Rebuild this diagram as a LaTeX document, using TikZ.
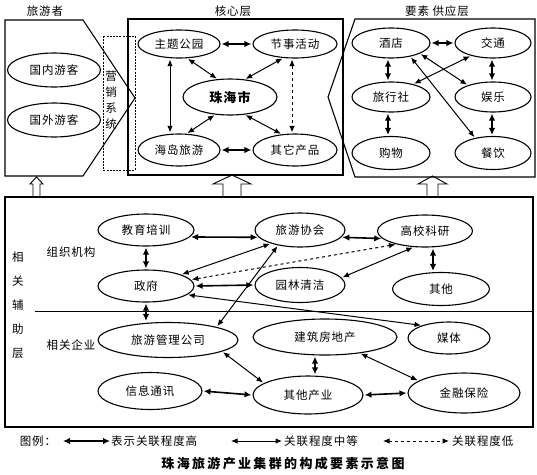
\documentclass[tikz,border=0pt]{standalone}
\usepackage{fontspec}
\setmainfont{Noto Sans CJK SC}[LetterSpace=8]
\usetikzlibrary{arrows.meta, shapes.geometric}

\begin{document}
\begin{tikzpicture}[
    x=1pt, y=-1pt,
    font=\fontsize{11.5}{13}\selectfont,
    ell/.style={ellipse, draw, line width=1.1pt, inner sep=0pt},
    layerbox/.style={draw, line width=1.1pt},
    link_high/.style={{Latex[length=7pt,width=6.5pt]}-{Latex[length=7pt,width=6.5pt]}, line width=1.6pt, shorten <=1pt, shorten >=1pt},
    link_mid/.style={{Latex[length=6.5pt,width=5.5pt]}-{Latex[length=6.5pt,width=5.5pt]}, line width=1pt, shorten <=1pt, shorten >=1pt},
    link_low/.style={link_mid, dashed},
    vtext/.style={align=center, inner sep=0pt}
]
\useasboundingbox (0,0) rectangle (537,474);

% Hollow arrow from the support layer up to a top layer
\newcommand{\hollowUp}[4]{
    \draw[line width=0.9pt] (#1,197) -- (#1,184) -- (#1-#3,184) -- ({(#1+#2)/2},#4)
        -- (#2+#3,184) -- (#2,184) -- (#2,197);
}

% ==========================================
% Top: tourists, core layer, supply layer
\node at (45,11) {旅游者};
\node at (233,11) {核心层};
\node at (437,11) {要素 供应层};

\draw[layerbox] (5,20) -- (83,20) -- (135,98) -- (83,176) -- (5,176) -- cycle;
\draw[line width=0.9pt, dash pattern=on 2pt off 1.2pt] (103,36) rectangle (135,170);
\node[vtext, font=\fontsize{11.5}{16}\selectfont] (yxxt) at (111,100) {营\\销\\系\\统};
\draw[layerbox] (128,19) rectangle (343,175);
\draw[layerbox] (355,19) -- (328,97) -- (355,177) -- (535,177) -- (535,19) -- cycle;

\node[ell, minimum width=93pt, minimum height=34pt] (gnyk) at (54,70) {国内游客};
\node[ell, minimum width=93pt, minimum height=34pt] (gwyk) at (54,120) {国外游客};

\node[ell, minimum width=82pt, minimum height=28pt] (ztgy) at (179,44) {主题公园};
\node[ell, minimum width=84pt, minimum height=28pt] (jshd) at (295,44) {节事活动};
\node[ell, minimum width=94pt, minimum height=36pt, font=\fontsize{13}{15}\selectfont\bfseries] (zhs) at (230,97) {珠海市};
\node[ell, minimum width=82pt, minimum height=32pt] (hdly) at (179,150) {海岛旅游};
\node[ell, minimum width=84pt, minimum height=32pt] (qtcp) at (295,150) {其它产品};

\node[ell, minimum width=78pt, minimum height=30pt] (jd) at (391,43) {酒店};
\node[ell, minimum width=76pt, minimum height=30pt] (jt) at (493,43) {交通};
\node[ell, minimum width=78pt, minimum height=30pt] (lxs) at (391,97) {旅行社};
\node[ell, minimum width=76pt, minimum height=30pt] (yl) at (493,97) {娱乐};
\node[ell, minimum width=78pt, minimum height=33pt] (gw) at (391,153) {购物};
\node[ell, minimum width=76pt, minimum height=33pt] (cy) at (493,153) {餐饮};

% core links
\draw[link_high] (ztgy.east) -- (jshd.west);
\draw[link_mid] ([xshift=-9pt]ztgy.south) -- ([xshift=-9pt]hdly.north);
\draw[link_mid] (ztgy.-60) -- (zhs.125);
\draw[link_mid] (jshd.-130) -- (zhs.50);
\draw[link_low] ([xshift=-3pt]jshd.south) -- ([xshift=-3pt]qtcp.north);
\draw[link_mid] (zhs.-130) -- (hdly.65);
\draw[link_mid] (zhs.-50) -- (qtcp.130);
\draw[link_high] (hdly.east) -- (qtcp.west);

% supply links
\draw[link_high] (jd.east) -- (jt.west);
\draw[link_high] ([xshift=-3pt]jd.south) -- ([xshift=-3pt]lxs.north);
\draw[link_high] ([xshift=-3pt]lxs.south) -- ([xshift=-3pt]gw.north);
\draw[link_high] ([xshift=-1pt]jt.south) -- ([xshift=-1pt]yl.north);
\draw[link_high] ([xshift=-1pt]yl.south) -- ([xshift=-1pt]cy.north);
\draw[link_mid] (jd.-20) -- (yl.155);
\draw[link_mid] (jt.-150) -- (lxs.30);
\draw[link_mid] (jd.-35) -- (cy.140);

% support layer feeds the three top parts
\hollowUp{33}{40}{3}{177}
\hollowUp{223}{241}{10}{175}
\hollowUp{427}{438}{9}{176}

% ==========================================
% Bottom: related support layer
\draw[layerbox] (5,197) rectangle (533,427);
\draw[line width=0.7pt] (35,311) -- (533,311);
\node[vtext, font=\fontsize{11.5}{24}\selectfont] (xgfz) at (18,305) {相\\关\\辅\\助\\层};
\node (zzjg) at (71,252) {组织机构};
\node (xgqy) at (71,345) {相关企业};

\node[ell, minimum width=96pt, minimum height=32pt] (jypx) at (146,230) {教育培训};
\node[ell, minimum width=96pt, minimum height=32pt] (zf) at (146,286) {政府};
\node[ell, minimum width=90pt, minimum height=34pt] (lyxh) at (300,230) {旅游协会};
\node[ell, minimum width=90pt, minimum height=35pt] (ylqj) at (300,285) {园林清洁};
\node[ell, minimum width=95pt, minimum height=32pt] (gxky) at (425,231) {高校科研};
\node[ell, minimum width=97pt, minimum height=33pt] (qt) at (441,289) {其他};

\node[ell, minimum width=140pt, minimum height=35pt] (lyglgs) at (168,340) {旅游管理公司};
\node[ell, minimum width=144pt, minimum height=36pt] (jzfdc) at (325,337) {建筑房地产};
\node[ell, minimum width=82pt, minimum height=32pt] (mt) at (449,338) {媒体};
\node[ell, minimum width=104pt, minimum height=37pt] (xxtx) at (150,391) {信息通讯};
\node[ell, minimum width=110pt, minimum height=38pt] (qtcy) at (308,395) {其他产业};
\node[ell, minimum width=112pt, minimum height=40pt] (jrbx) at (464,393) {金融保险};

% organisation links
\draw[link_high] (jypx.-9) -- (lyxh.190);
\draw[link_high] (lyxh.-10) -- (gxky.190);
\draw[link_high] (jypx.south) -- (zf.north);
\draw[link_mid] (zf.18) -- (lyxh.205);
\draw[link_low] (zf.8) -- (gxky.205);
\draw[link_high] (zf.east) -- (ylqj.west);
\draw[link_mid] (ylqj.10) -- (gxky.235);
\draw[link_high] ([xshift=8pt]gxky.south) -- ([xshift=-8pt]qt.north);
\draw[link_mid] (lyxh.215) -- (lyglgs.15);
\draw[link_mid] (zf.-12) -- (mt.155);

% enterprise links
\draw[link_high] (zf.south) -- ([xshift=-22pt]lyglgs.north);
\draw[link_mid] (lyglgs.-12) -- (qtcy.165);
\draw[link_high] (xxtx.east) -- (qtcy.west);
\draw[link_high] ([xshift=-10pt]jzfdc.south) -- ([xshift=7pt]qtcy.north);
\draw[link_high] (qtcy.east) -- (jrbx.west);
\draw[link_mid] (jzfdc.-25) -- (jrbx.165);

% ==========================================
% Legend and caption
\node (tuli) at (38,441) {图例：};
\coordinate (lgA1) at (63,441);
\coordinate (lgA2) at (110,441);
\node[anchor=west, inner sep=0pt] (lgHigh) at (111,441) {表示关联程度高};
\coordinate (lgB1) at (231,441);
\coordinate (lgB2) at (282,441);
\node[anchor=west, inner sep=0pt] (lgMid) at (284,441) {关联程度中等};
\coordinate (lgC1) at (383,441);
\coordinate (lgC2) at (449,441);
\node[anchor=west, inner sep=0pt] (lgLow) at (452,441) {关联程度低};
\draw[link_high, shorten <=0pt, shorten >=0pt] (lgA1) -- (lgA2);
\draw[link_mid, shorten <=0pt, shorten >=0pt] (lgB1) -- (lgB2);
\draw[link_low, shorten <=0pt, shorten >=0pt] (lgC1) -- (lgC2);

\node[font=\fontsize{13}{15}\selectfont\bfseries\addfontfeature{LetterSpace=18}] (caption) at (283,464) {珠海旅游产业集群的构成要素示意图};

\end{tikzpicture}
\end{document}
